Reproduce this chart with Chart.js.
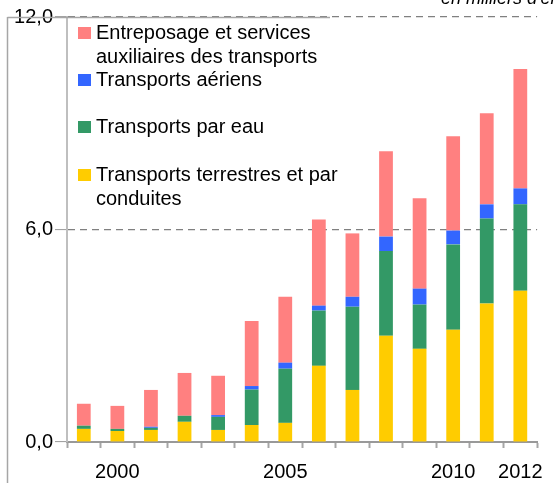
<!DOCTYPE html>
<html>
<head>
<meta charset="utf-8">
<script src="https://cdn.jsdelivr.net/npm/chart.js@4/dist/chart.umd.min.js"></script>
<style>
  html, body { margin: 0; padding: 0; background: #fff; }
  #wrap { position: relative; width: 555px; height: 483px; overflow: hidden; font-family: 'Liberation Sans', Arial, sans-serif; }
  #legend { position: absolute; left: 0; top: 0; width: 0; height: 0; }
  .item { position: absolute; left: 78px; font-size: 20px; line-height: 23.5px; color: #000; white-space: nowrap; }
  .sw { position: absolute; left: 0; top: 6px; width: 13px; height: 12px; }
  .txt { position: absolute; left: 18px; top: 0; }
  #unit { position: absolute; left: 441px; top: -12px; font-size: 18px; font-style: italic; white-space: nowrap; color: #000; }
</style>
</head>
<body>
<div id="wrap">
  <canvas id="c" width="555" height="483"></canvas>
  <div id="legend"></div>
  <div id="unit">en milliers d'emplois</div>
</div>
<script>
const years = ['1999','2000','2001','2002','2003','2004','2005','2006','2007','2008','2009','2010','2011','2012'];
const shownYearLabels = ['2000','2005','2010','2012'];
const yTickValues = [0, 6, 12];

const terrestres   = [0.37,0.31,0.34,0.57,0.34,0.48,0.54,2.15,1.47,3.00,2.63,3.17,3.91,4.27];
const eau          = [0.09,0.06,0.06,0.17,0.37,1.00,1.53,1.56,2.35,2.39,1.25,2.41,2.40,2.44];
const aeriens      = [0.00,0.00,0.03,0.00,0.05,0.10,0.17,0.14,0.28,0.41,0.45,0.39,0.40,0.45];
const entreposage  = [0.62,0.65,1.04,1.21,1.11,1.84,1.86,2.43,1.79,2.41,2.55,2.66,2.57,3.37];

const seriesNames = [
  'Transports terrestres et par\nconduites',
  'Transports par eau',
  'Transports aériens',
  'Entreposage et services\nauxiliaires des transports'
];
const seriesColors = ['#FFCC00', '#339966', '#3366FF', '#FF8080'];
const seriesData = [terrestres, eau, aeriens, entreposage];
const legendTops = [163, 115, 68, 21];

const FONT = "'Liberation Sans', Arial, sans-serif";

const framePlugin = {
  id: 'frame',
  afterDraw(chart) {
    const ctx = chart.ctx;
    const y12 = chart.scales.y.getPixelForValue(12);
    ctx.save();
    ctx.strokeStyle = '#A6A6A6';
    ctx.lineWidth = 1.5;
    ctx.beginPath();
    ctx.moveTo(7.5, Math.round(y12) + 0.5);
    ctx.lineTo(330, Math.round(y12) + 0.5);
    ctx.moveTo(7.5, Math.round(y12));
    ctx.lineTo(7.5, 483);
    ctx.stroke();
    ctx.restore();
  }
};

const chart = new Chart(document.getElementById('c'), {
  type: 'bar',
  data: {
    labels: years,
    datasets: seriesData.map((d, i) => ({
      label: seriesNames[i],
      data: d,
      backgroundColor: seriesColors[i],
      borderWidth: 0,
      categoryPercentage: 1,
      barPercentage: 0.41
    }))
  },
  options: {
    responsive: false,
    animation: false,
    devicePixelRatio: 1,
    layout: { padding: { left: 7, right: 12, top: 17, bottom: 0 } },
    plugins: { legend: { display: false }, tooltip: { enabled: false }, title: { display: false } },
    scales: {
      x: {
        stacked: true,
        offset: true,
        grid: { display: true, drawOnChartArea: false, drawTicks: true, tickLength: 6, tickColor: '#A6A6A6', tickWidth: 2, offset: true },
        border: { display: true, color: '#999999', width: 2 },
        ticks: {
          autoSkip: false, maxRotation: 0, minRotation: 0, padding: 12,
          color: '#000', font: { family: FONT, size: 20 },
          callback: (v, i) => shownYearLabels.includes(years[i]) ? years[i] : ''
        },
        afterFit: (s) => { s.height = 41; }
      },
      y: {
        stacked: true,
        min: 0, max: 12,
        afterBuildTicks: (s) => { s.ticks = yTickValues.map(v => ({ value: v })); },
        grid: {
          display: true, drawTicks: true, tickLength: 12, tickColor: '#999999', tickWidth: 1,
          color: (c) => (c.tick && c.tick.value === 0) ? 'rgba(0,0,0,0)' : '#808080',
          lineWidth: 1.2
        },
        border: { display: true, color: '#BFBFBF', width: 2, dash: [7, 5] },
        ticks: {
          padding: 2, color: '#000', font: { family: FONT, size: 20 },
          callback: (v) => v.toFixed(1).replace('.', ',')
        },
        afterFit: (s) => { s.width = 60; }
      }
    }
  },
  plugins: [framePlugin]
});

// HTML legend built from the datasets (top entry = top of stack)
const legend = document.getElementById('legend');
chart.data.datasets.forEach((ds, i) => {
  const item = document.createElement('div');
  item.className = 'item';
  item.style.top = legendTops[i] + 'px';
  const sw = document.createElement('div');
  sw.className = 'sw';
  sw.style.background = ds.backgroundColor;
  const txt = document.createElement('div');
  txt.className = 'txt';
  ds.label.split('\n').forEach((line, k) => {
    if (k) txt.appendChild(document.createElement('br'));
    txt.appendChild(document.createTextNode(line));
  });
  item.appendChild(sw);
  item.appendChild(txt);
  legend.appendChild(item);
});
</script>
</body>
</html>
